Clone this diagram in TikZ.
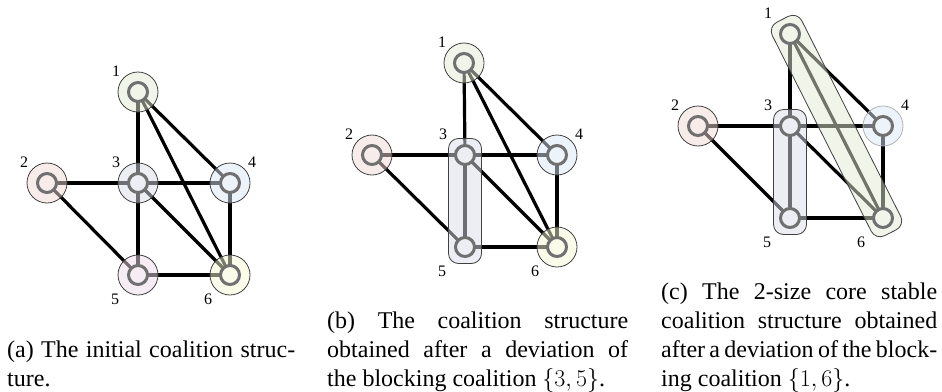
\documentclass[tikz,border=0pt]{standalone}
\usepackage{fontspec}
\usepackage{fix-cm}
\usetikzlibrary{calc}
\newfontfamily\capfont{Liberation Serif}
\newcommand\capspacing{\spaceskip=0.25em plus 0.6em minus 0.13em\relax}
\definecolor{h1}{RGB}{227,233,211}
\definecolor{h2}{RGB}{241,217,215}
\definecolor{h3}{RGB}{217,221,233}
\definecolor{h4}{RGB}{219,231,247}
\definecolor{h5}{RGB}{235,219,231}
\definecolor{h6}{RGB}{245,247,209}
\definecolor{l1}{RGB}{241,244,233}
\definecolor{l2}{RGB}{248,236,235}
\definecolor{l3}{RGB}{236,238,244}
\definecolor{l4}{RGB}{237,243,251}
\definecolor{l5}{RGB}{245,237,243}
\definecolor{l6}{RGB}{250,251,232}
\definecolor{ringgray}{RGB}{112,112,112}
\tikzset{
  edge/.style={line width=3.2pt, draw=black},
  halo/.style={circle, minimum size=40pt, inner sep=0pt, draw=black!75, line width=0.8pt, fill opacity=0.5, draw opacity=1},
  core/.style={circle, minimum size=19pt, inner sep=0pt, draw=ringgray, line width=3pt},
  lab/.style={font=\capfont\fontsize{16}{18}\selectfont, inner sep=0pt},
  coal/.style={rectangle, rounded corners=10pt, draw=black!75, line width=0.8pt, fill opacity=0.5, draw opacity=1, inner sep=0pt, minimum height=33pt},
  capt/.style={font=\capfont\fontsize{24}{29}\selectfont, inner sep=0pt, align=justify, anchor=base west},
}
\begin{document}
\begin{tikzpicture}[x=1pt,y=-1pt]
\useasboundingbox (0,0) rectangle (942,391);
% ---------- coordinates
\coordinate (a1) at (138,92);
\coordinate (a2) at (47,183);
\coordinate (a3) at (138,183);
\coordinate (a4) at (230,183);
\coordinate (a5) at (138,275);
\coordinate (a6) at (230,275);
\coordinate (b1) at (464,63);
\coordinate (b2) at (372,155);
\coordinate (b3) at (465,155);
\coordinate (b4) at (557,155);
\coordinate (b5) at (465,247);
\coordinate (b6) at (557,247);
\coordinate (c1) at (790,34);
\coordinate (c2) at (698,126);
\coordinate (c3) at (790,126);
\coordinate (c4) at (883,126);
\coordinate (c5) at (790,218);
\coordinate (c6) at (883,218);
% ---------- edges
\foreach \p in {a,b,c}{
  \draw[edge] (\p1) -- (\p3);
  \draw[edge] (\p1) -- (\p4);
  \draw[edge] (\p1) -- (\p6);
  \draw[edge] (\p2) -- (\p3);
  \draw[edge] (\p2) -- (\p5);
  \draw[edge] (\p3) -- (\p4);
  \draw[edge] (\p3) -- (\p5);
  \draw[edge] (\p3) -- (\p6);
  \draw[edge] (\p4) -- (\p6);
  \draw[edge] (\p5) -- (\p6);
}
% ---------- panel (a)
\foreach \i in {1,...,6}{
  \node[halo, fill=h\i] (ah\i) at (a\i) {};
  \node[core, fill=l\i] (ac\i) at (a\i) {};
}
% ---------- panel (b)
\node[coal, fill=h3, minimum width=33pt, minimum height=125pt] (bk35) at ($(b3)!0.5!(b5)$) {};
\foreach \i in {1,2,4,6}{
  \node[halo, fill=h\i] (bh\i) at (b\i) {};
}
\foreach \i/\c in {1/l1,2/l2,3/l3,4/l4,5/l3,6/l6}{
  \node[core, fill=\c] (bc\i) at (b\i) {};
}
% ---------- panel (c)
\node[coal, fill=h3, minimum width=33pt, minimum height=125pt] (ck35) at ($(c3)!0.5!(c5)$) {};
\path let \p1=($(c6)-(c1)$), \n1={veclen(\x1,\y1)+33}, \n2={atan2(\y1,\x1)} in
  node[coal, fill=h1, minimum width=\n1, rotate=\n2] (ck16) at ($(c1)!0.5!(c6)$) {};
\node[halo, fill=h2] (ch2) at (c2) {};
\node[halo, fill=h4, draw=black!30] (ch4) at (c4) {};
\foreach \i/\c in {1/l1,2/l2,3/l3,4/l4,5/l3,6/l1}{
  \node[core, fill=\c] (cc\i) at (c\i) {};
}
% ---------- labels
\foreach \p in {a,b,c}{
  \node[lab] (\p l1) at ($(\p1)+(-22,-21)$) {1};
  \node[lab] (\p l2) at ($(\p2)+(-23,-21)$) {2};
  \node[lab] (\p l3) at ($(\p3)+(-22,-21)$) {3};
  \node[lab] (\p l4) at ($(\p4)+(22,-21)$) {4};
  \node[lab] (\p l5) at ($(\p5)+(-23,24)$) {5};
  \node[lab] (\p l6) at ($(\p6)+(-22,24)$) {6};
}
% ---------- captions
\node[capt, text width=288pt] (capa) at (7,357)
  {\capspacing(a) The initial coalition struc-\linebreak ture.};
\node[capt, text width=301pt] (capb) at (327,328)
  {\capspacing(b) The coalition structure\linebreak obtained after a deviation of\linebreak the blocking coalition $\{3,5\}$.};
\node[capt, text width=276pt] (capc) at (661,299)
  {\capspacing(c) The 2-size core stable\linebreak coalition structure obtained\linebreak after a deviation of the block-\linebreak ing coalition $\{1,6\}$.};
\end{tikzpicture}
\end{document}
